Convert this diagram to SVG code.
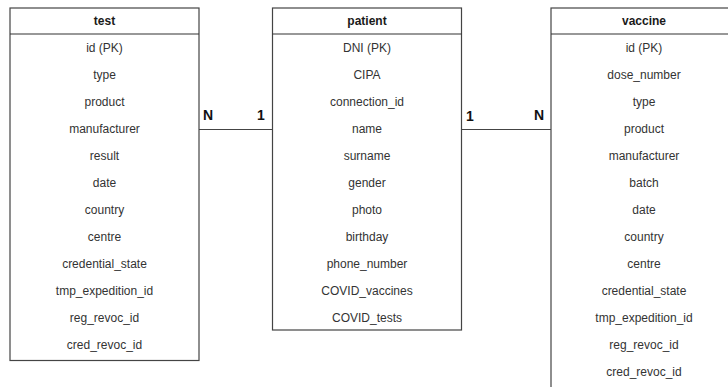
<svg xmlns="http://www.w3.org/2000/svg" width="728" height="387" viewBox="0 0 728 387">
  <style>
    .box { fill: #ffffff; stroke: #444444; stroke-width: 1.2; }
    .sep { stroke: #333333; stroke-width: 1.2; }
    .title { font-family: "Liberation Sans", Arial, sans-serif; font-size: 12px; font-weight: bold; fill: #1a1a1a; text-anchor: middle; }
    .field { font-family: "Liberation Sans", Arial, sans-serif; font-size: 12px; fill: #333333; text-anchor: middle; }
    .card { font-family: "Liberation Sans", Arial, sans-serif; font-size: 14px; font-weight: bold; fill: #111111; }
    .link { stroke: #444444; stroke-width: 1.2; fill: none; }
  </style>
  <rect width="728" height="387" fill="#ffffff"/>

  <g id="connectors">
    <line class="link" x1="199" y1="129.5" x2="272.5" y2="129.5"/>
    <line class="link" x1="461.5" y1="129.5" x2="551" y2="129.5"/>
    <text class="card" x="203" y="120">N</text>
    <text class="card" x="257" y="120">1</text>
    <text class="card" x="466" y="120.5">1</text>
    <text class="card" x="534" y="120">N</text>
  </g>

  <g id="test">
    <rect class="box" x="10" y="8" width="189" height="352.5"/>
    <line class="sep" x1="10" y1="34" x2="199" y2="34"/>
    <text class="title" x="104.5" y="25">test</text>
    <text class="field" x="104.5" y="52">id (PK)</text>
    <text class="field" x="104.5" y="79">type</text>
    <text class="field" x="104.5" y="106">product</text>
    <text class="field" x="104.5" y="133">manufacturer</text>
    <text class="field" x="104.5" y="160">result</text>
    <text class="field" x="104.5" y="187">date</text>
    <text class="field" x="104.5" y="214">country</text>
    <text class="field" x="104.5" y="241">centre</text>
    <text class="field" x="104.5" y="268">credential_state</text>
    <text class="field" x="104.5" y="295">tmp_expedition_id</text>
    <text class="field" x="104.5" y="322">reg_revoc_id</text>
    <text class="field" x="104.5" y="349">cred_revoc_id</text>
  </g>

  <g id="patient">
    <rect class="box" x="272.5" y="8" width="189" height="322"/>
    <line class="sep" x1="272.5" y1="34" x2="461.5" y2="34"/>
    <text class="title" x="367" y="25">patient</text>
    <text class="field" x="367" y="52">DNI (PK)</text>
    <text class="field" x="367" y="79">CIPA</text>
    <text class="field" x="367" y="106">connection_id</text>
    <text class="field" x="367" y="133">name</text>
    <text class="field" x="367" y="160">surname</text>
    <text class="field" x="367" y="187">gender</text>
    <text class="field" x="367" y="214">photo</text>
    <text class="field" x="367" y="241">birthday</text>
    <text class="field" x="367" y="268">phone_number</text>
    <text class="field" x="367" y="295">COVID_vaccines</text>
    <text class="field" x="367" y="322">COVID_tests</text>
  </g>

  <g id="vaccine">
    <rect class="box" x="551" y="8" width="189" height="384"/>
    <line class="sep" x1="551" y1="34" x2="740" y2="34"/>
    <text class="title" x="644" y="25">vaccine</text>
    <text class="field" x="644" y="52">id (PK)</text>
    <text class="field" x="644" y="79">dose_number</text>
    <text class="field" x="644" y="106">type</text>
    <text class="field" x="644" y="133">product</text>
    <text class="field" x="644" y="160">manufacturer</text>
    <text class="field" x="644" y="187">batch</text>
    <text class="field" x="644" y="214">date</text>
    <text class="field" x="644" y="241">country</text>
    <text class="field" x="644" y="268">centre</text>
    <text class="field" x="644" y="295">credential_state</text>
    <text class="field" x="644" y="322">tmp_expedition_id</text>
    <text class="field" x="644" y="349">reg_revoc_id</text>
    <text class="field" x="644" y="376">cred_revoc_id</text>
  </g>
</svg>
